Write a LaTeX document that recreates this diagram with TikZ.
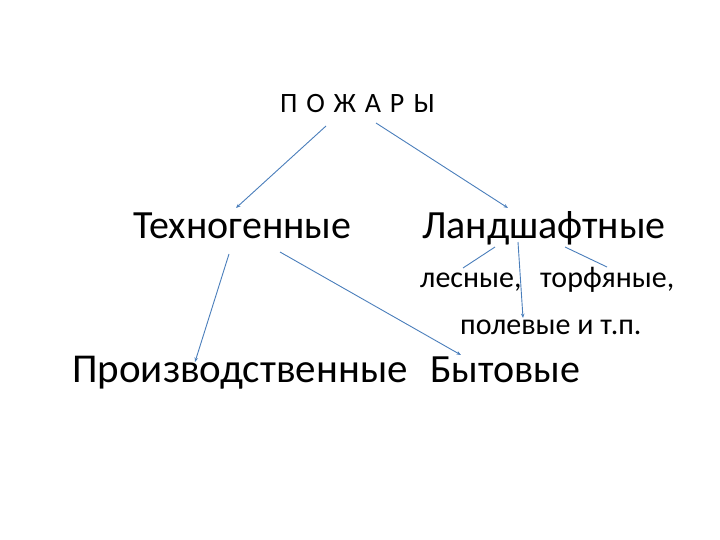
\documentclass[tikz,border=0pt]{standalone}
\usepackage{fontspec}
\setmainfont{Carlito}
\usetikzlibrary{arrows.meta}
\definecolor{arrowblue}{HTML}{4A7EBB}
\newcommand{\lsp}{\hspace{8.8pt}}
\begin{document}
\begin{tikzpicture}[x=1pt,y=-1pt,
  lbl/.style={inner sep=0pt,anchor=base west,text=black},
  big/.style={lbl,font=\fontsize{40}{42}\selectfont},
  small/.style={lbl,font=\fontsize{30}{32}\selectfont},
  conn/.style={draw=arrowblue,line width=0.9pt,-{Stealth[length=4.5pt,width=3.5pt]}},
  plain/.style={draw=arrowblue,line width=0.9pt}]
\useasboundingbox (0,0) rectangle (720,540);
\node[lbl,font=\fontsize{28}{30}\selectfont] (fires) at (280,113) {П\lsp О\lsp Ж\lsp А\lsp Р\lsp Ы};
\node[big] (tech) at (133,239) {Техногенные};
\node[big] (land) at (422,239) {Ландшафтные};
\node[small] (forest) at (420,287) {лесные,};
\node[small] (peat) at (540,287) {торфяные,};
\node[small] (field) at (460,334) {полевые и т.п.};
\node[lbl,font=\fontsize{41}{43}\selectfont] (prod) at (72,382) {Производственные};
\node[big] (home) at (430,382) {Бытовые};
\coordinate (a1s) at (326,126); \coordinate (a1e) at (236,208);
\coordinate (a2s) at (376,123); \coordinate (a2e) at (508,208);
\coordinate (a3s) at (229,254); \coordinate (a3e) at (195,362);
\coordinate (a4s) at (280,252); \coordinate (a4e) at (461,355);
\coordinate (a5s) at (495,247); \coordinate (a5e) at (463,268);
\coordinate (a6s) at (518,242); \coordinate (a6e) at (523,318);
\coordinate (a7s) at (565,247); \coordinate (a7e) at (607,267);
\draw[conn] (a1s) -- (a1e);
\draw[conn] (a2s) -- (a2e);
\draw[conn] (a3s) -- (a3e);
\draw[conn] (a4s) -- (a4e);
\draw[plain] (a5s) -- (a5e);
\draw[conn] (a6s) -- (a6e);
\draw[plain] (a7s) -- (a7e);
\end{tikzpicture}
\end{document}
